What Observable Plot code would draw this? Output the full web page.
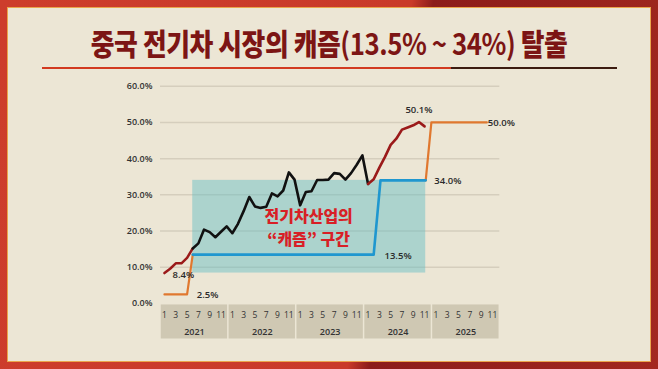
<!DOCTYPE html>
<html><head><meta charset="utf-8">
<script src="https://cdn.jsdelivr.net/npm/d3@7"></script>
<script src="https://cdn.jsdelivr.net/npm/@observablehq/plot@0.6"></script>
<style>
html,body{margin:0;padding:0;}
body{width:658px;height:369px;position:relative;overflow:hidden;
  background:linear-gradient(100deg,#cd3d2c 0%,#c93a2a 57%,#8c1c1a 60%,#a3281f 100%);
  font-family:"Noto Sans",sans-serif;}
#panel{position:absolute;left:7px;top:7px;width:644px;height:355px;background:#ece6d5;box-shadow:inset 0 0 0 1px #eaa54c;}
#title{position:absolute;left:0;top:26px;width:658px;text-align:center;white-space:nowrap;}
#title span{display:inline-block;transform:scaleX(0.86);transform-origin:center;font-family:"Noto Sans CJK KR",sans-serif;font-weight:900;font-size:30px;line-height:32px;color:#7c1514;letter-spacing:-0.5px;}
#title span b{font-weight:700;}
#ul1{position:absolute;left:42px;top:67px;width:409px;height:2px;background:#d23a20;}
#ul2{position:absolute;left:451px;top:67px;width:166px;height:2px;background:#3c1c10;}
#chart{position:absolute;left:0;top:0;}
</style></head>
<body>
<div id="panel"></div>
<div id="title"><span>중국 전기차 시장의 캐즘<b>(13.5% ~ 34%)</b> 탈출</span></div>
<div id="ul1"></div><div id="ul2"></div>
<div id="chart"></div>
<script>
// ---- data ----
const years = [2021, 2022, 2023, 2024, 2025];
const monthTicks = [1, 3, 5, 7, 9, 11];
const yTicks = [0, 10, 20, 30, 40, 50, 60];
// monthly EV share (%) from Jan 2021 (index 0) to Nov 2024 (index 46)
const share = [8.4, 9.6, 11.1, 11.1, 12.6, 15.2, 16.6, 20.4, 19.7, 18.3, 19.8, 21.3,
  19.4, 22.0, 25.5, 29.4, 26.8, 26.4, 26.7, 30.4, 29.6, 31.2, 36.2, 34.2,
  27.1, 30.8, 31.0, 34.1, 34.1, 34.2, 36.0, 35.8, 34.2, 36.0, 38.3, 40.9,
  33.0, 34.3, 37.5, 40.5, 43.8, 45.5, 48.0, 48.6, 49.2, 50.1, 48.9];
const blackFrom = 5, blackTo = 36;
// threshold lines: [month index, %]
const orangeStart = [[0, 2.5], [4, 2.5], [5, 13.5]];
const chasmLine = [[5, 13.5], [37, 13.5], [38.2, 34], [46.2, 34]];
const orangeEnd = [[46.2, 34], [47.2, 50], [57, 50]];
const chasmZone = [{x1: 5, x2: 46.2, y1: 8.4, y2: 34}];
const valueLabels = [
  {i: 0, v: 8.4, t: "8.4%", a: "start", dx: 8, dy: 2},
  {i: 5, v: 2.5, t: "2.5%", a: "start", dx: 4, dy: 1},
  {i: 38.2, v: 13.5, t: "13.5%", a: "start", dx: 4, dy: 1},
  {i: 47.2, v: 34, t: "34.0%", a: "start", dx: 3, dy: 1},
  {i: 45, v: 50.1, t: "50.1%", a: "middle", dx: 0, dy: -12},
  {i: 57, v: 50, t: "50.0%", a: "start", dx: 1, dy: 1}
];
const zoneLines = ["전기차산업의", "\u201C캐즘\u201D 구간"];

// ---- derived tables ----
const pts = share.map((v, i) => ({i, v}));
const seg1 = pts.filter(d => d.i <= blackFrom);
const seg2 = pts.filter(d => d.i >= blackFrom && d.i <= blackTo);
const seg3 = pts.filter(d => d.i >= blackTo);
const yearCells = years.map((y, k) => ({y: String(y), x1: k * 12 - 0.7, x2: k * 12 + 11.3, xc: k * 12 + 5.3}));
const monthCells = years.flatMap((y, k) => monthTicks.map(m => ({m: String(m), x: k * 12 + m - 1})));

const chart = Plot.plot({
  width: 658, height: 369,
  marginLeft: 160, marginRight: 158.7, marginTop: 85.7, marginBottom: 66,
  x: {domain: [-0.7, 59.3], axis: null},
  y: {domain: [0, 60], axis: null},
  style: {background: "transparent", fontFamily: "'Open Sans','Noto Sans',sans-serif"},
  marks: [
    Plot.ruleY(yTicks.filter(d => d > 0), {stroke: "#d5cebd", strokeWidth: 1.5}),
    Plot.axisY(yTicks, {tickSize: 0, tickPadding: 8, tickFormat: d => d.toFixed(1) + "%", fontSize: 9, fontWeight: 600, fill: "#333", label: null}),
    Plot.rect(chasmZone, {x1: "x1", x2: "x2", y1: "y1", y2: "y2", fill: "#5fbcc4", fillOpacity: 0.45}),
    // category band
    Plot.rect(yearCells, {x1: "x1", x2: "x2", y1: -0.4, y2: -9.8, fill: "#cfc8b3", insetLeft: 0.75, insetRight: 0.75}),
    Plot.text(monthCells, {x: "x", y: -3.3, text: "m", fontSize: 8.5, fill: "#333"}),
    Plot.text(yearCells, {x: "xc", y: -7.8, text: "y", fontSize: 9, fontWeight: 600, fill: "#333"}),
    // thresholds
    Plot.line(orangeStart, {x: "0", y: "1", stroke: "#e0782f", strokeWidth: 2.2}),
    Plot.line(orangeEnd, {x: "0", y: "1", stroke: "#e0782f", strokeWidth: 2.2}),
    Plot.line(chasmLine, {x: "0", y: "1", stroke: "#1f97cf", strokeWidth: 2.6}),
    // share line
    Plot.line(seg1, {x: "i", y: "v", stroke: "#9b1a1a", strokeWidth: 2.5}),
    Plot.line(seg2, {x: "i", y: "v", stroke: "#111", strokeWidth: 2.6}),
    Plot.line(seg3, {x: "i", y: "v", stroke: "#9b1a1a", strokeWidth: 2.6}),
    ...valueLabels.map(d => Plot.text([d], {x: "i", y: "v", text: "t", textAnchor: d.a, dx: d.dx, dy: d.dy, fontSize: 9.5, fontWeight: 600, fill: "#2a2a2a"})),
    Plot.text([zoneLines[0]], {x: 25.5, y: 24.05, text: d => d, fontSize: 16, fontWeight: 900, fill: "#d81f26", fontFamily: "'Noto Sans CJK KR',sans-serif"}),
    Plot.text([zoneLines[1]], {x: 25.5, y: 17.6, text: d => d, fontSize: 16, fontWeight: 900, fill: "#d81f26", fontFamily: "'Noto Sans CJK KR',sans-serif"})
  ]
});
document.getElementById("chart").append(chart);
</script>
</body></html>
